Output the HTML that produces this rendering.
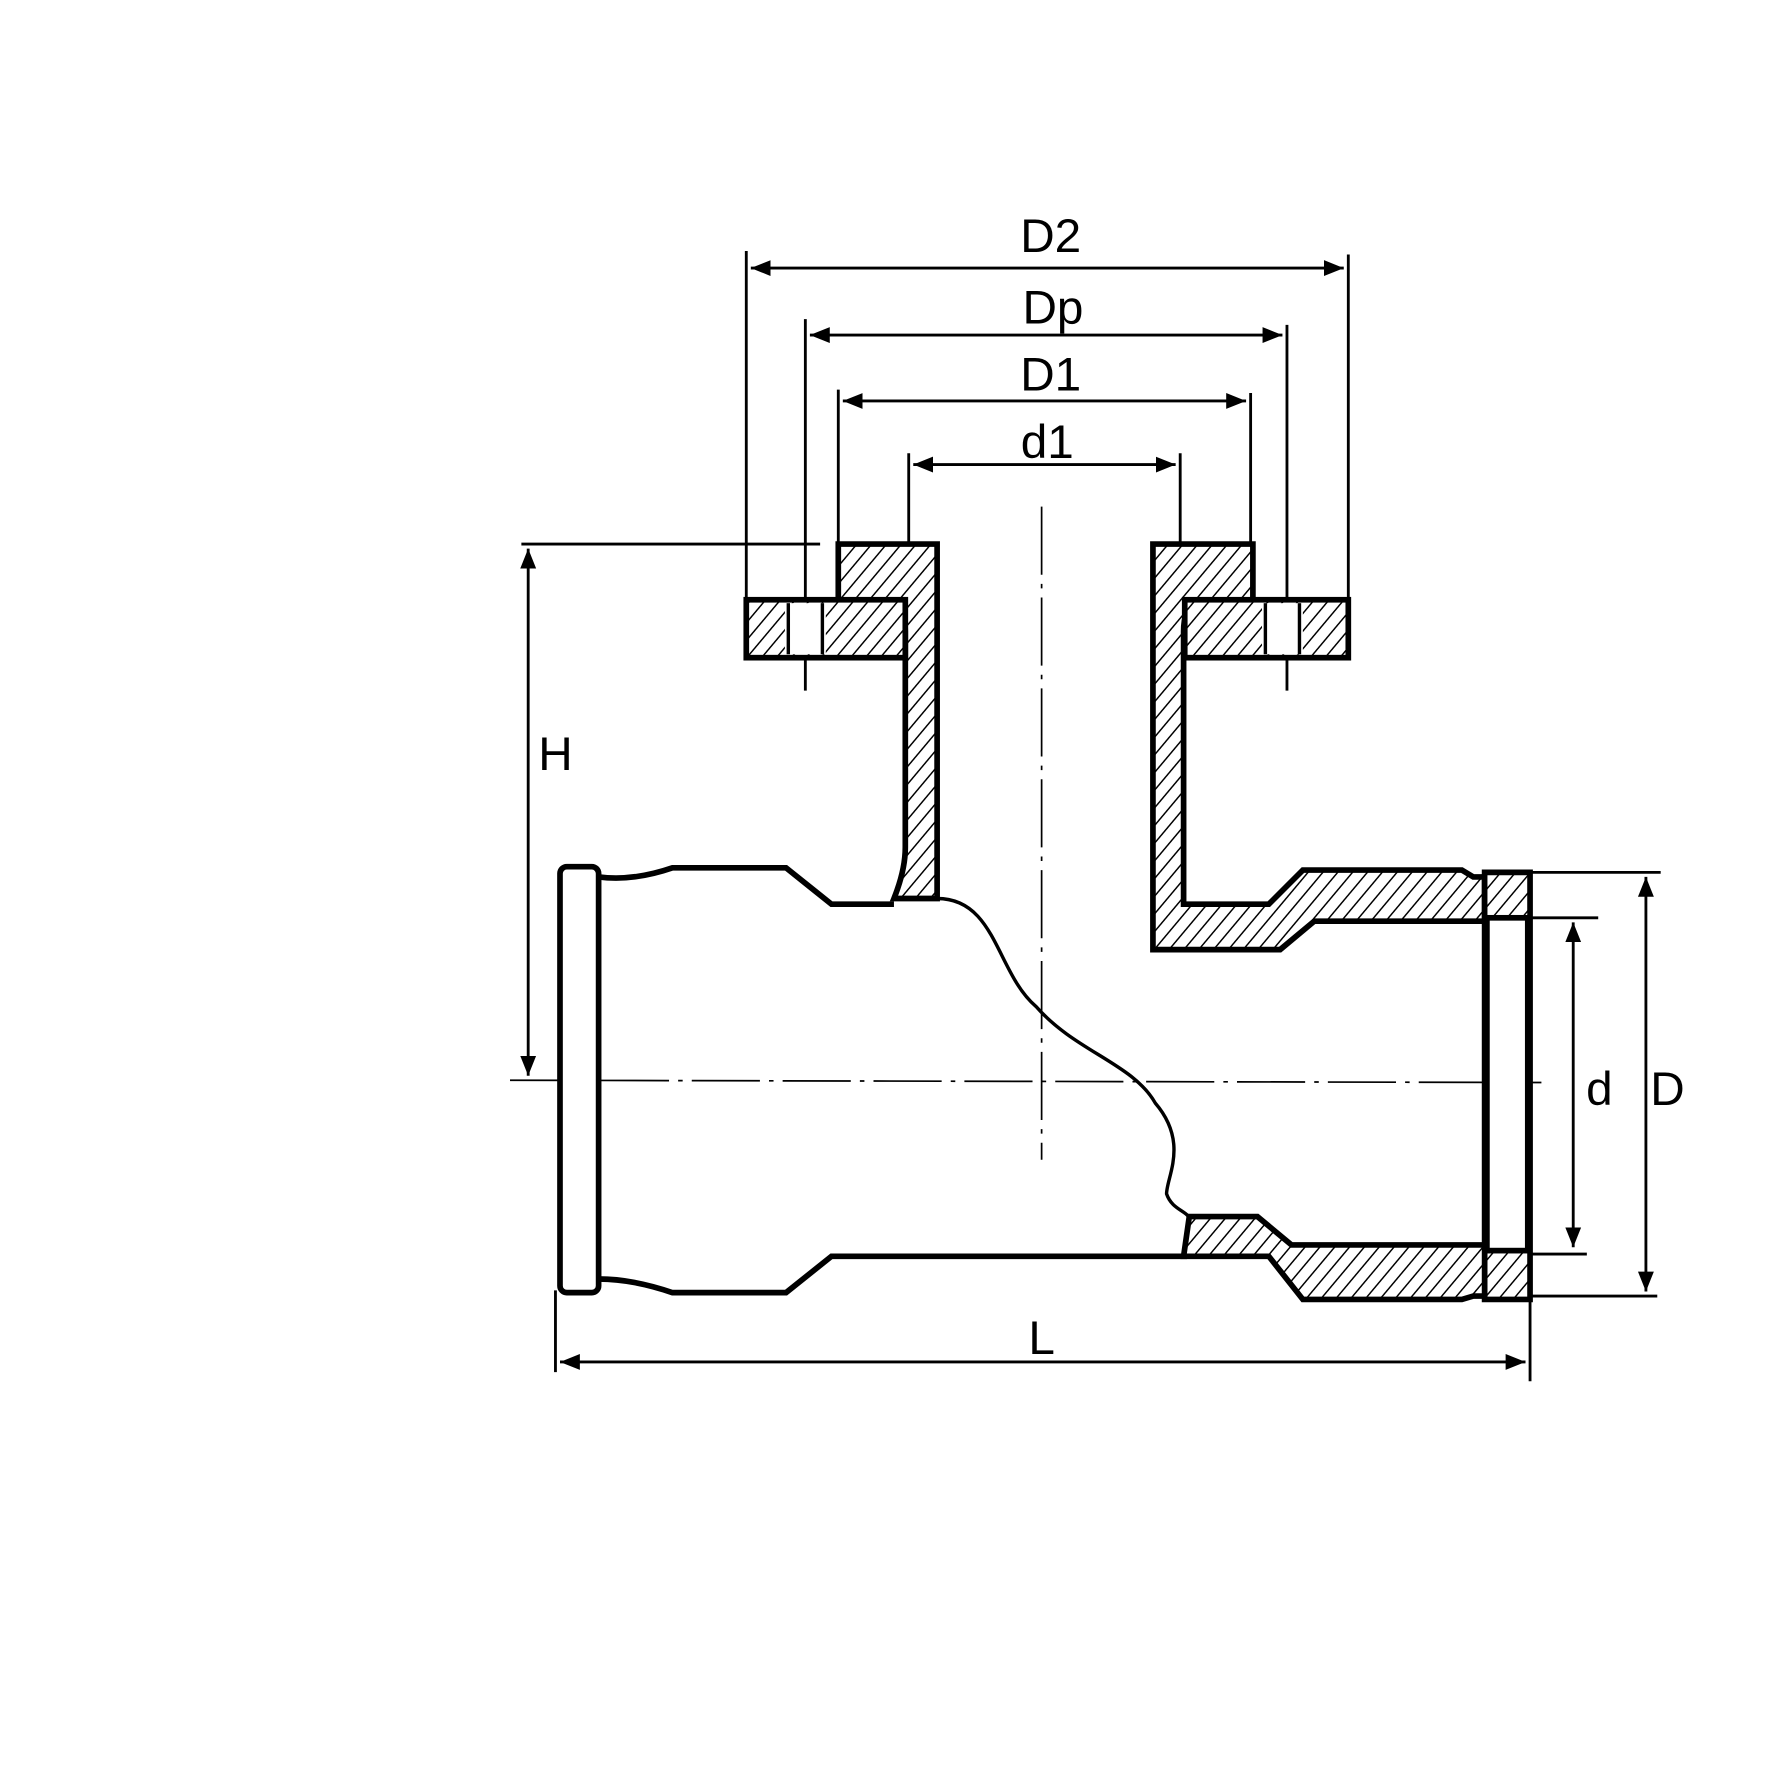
<!DOCTYPE html>
<html><head><style>html,body{margin:0;background:#fff}svg{display:block}</style></head>
<body>
<svg width="1772" height="1772" viewBox="0 0 1560 1560" xmlns="http://www.w3.org/2000/svg" font-family="Liberation Sans, sans-serif">
<defs>
<pattern id="h" width="10" height="10" patternUnits="userSpaceOnUse" patternTransform="rotate(40)">
<rect width="10" height="10" fill="#fff"/><line x1="0" y1="0" x2="0" y2="10" stroke="#000" stroke-width="2.6"/></pattern>
<marker id="a" viewBox="0 0 10 10" refX="10" refY="5" markerWidth="7" markerHeight="7" orient="auto-start-reverse"><path d="M0,1 L10,5 L0,9 z"/></marker>
</defs>
<g transform="translate(-3,-4)">
<g stroke="#000" fill="none" stroke-width="2.5">
<line x1="660" y1="225" x2="660" y2="530"/><line x1="1190" y1="228" x2="1190" y2="530"/>
<line x1="712" y1="285" x2="712" y2="612"/><line x1="1136" y1="290" x2="1136" y2="612"/>
<line x1="741" y1="347" x2="741" y2="485"/><line x1="1104" y1="350" x2="1104" y2="485"/>
<line x1="803" y1="403" x2="803" y2="483"/><line x1="1042" y1="403" x2="1042" y2="483"/>
<line x1="462" y1="483" x2="725" y2="483"/>
<line x1="1340" y1="772" x2="1465" y2="772"/><line x1="1350" y1="1145" x2="1462" y2="1145"/>
<line x1="1350" y1="812" x2="1410" y2="812"/><line x1="1350" y1="1108" x2="1400" y2="1108"/>
<line x1="492" y1="1140" x2="492" y2="1212"/><line x1="1350" y1="1150" x2="1350" y2="1220"/>
<line x1="664" y1="240" x2="1186" y2="240" marker-start="url(#a)" marker-end="url(#a)"/>
<line x1="716" y1="299" x2="1132" y2="299" marker-start="url(#a)" marker-end="url(#a)"/>
<line x1="745" y1="357" x2="1100" y2="357" marker-start="url(#a)" marker-end="url(#a)"/>
<line x1="807" y1="413" x2="1038" y2="413" marker-start="url(#a)" marker-end="url(#a)"/>
<line x1="468" y1="487" x2="468" y2="951" marker-start="url(#a)" marker-end="url(#a)"/>
<line x1="1388" y1="816" x2="1388" y2="1102" marker-start="url(#a)" marker-end="url(#a)"/>
<line x1="1452" y1="776" x2="1452" y2="1141" marker-start="url(#a)" marker-end="url(#a)"/>
<line x1="496" y1="1203" x2="1346" y2="1203" marker-start="url(#a)" marker-end="url(#a)"/>
<line x1="452" y1="955" x2="1360" y2="957" stroke-width="1.5" stroke-dasharray="60,8,4,8"/>
<line x1="920" y1="450" x2="920" y2="1025" stroke-width="1.5" stroke-dasharray="60,8,4,8"/>
</g>
<g stroke="#000" stroke-width="5" fill="url(#h)">
<path d="M741,483 H828 V795 H790 Q800,770 800,750 V560 Q800,540 790,533 H741 Z"/>
<rect x="660" y="532" width="140" height="51"/>
<rect x="694" y="535" width="36" height="45" fill="#fff" stroke="none"/>
<line x1="697" y1="535" x2="697" y2="580" stroke-width="3"/><line x1="727" y1="535" x2="727" y2="580" stroke-width="3"/>
<path d="M1106,483 H1018 V840 H1130 L1160,815 H1310 V776 H1300 L1290,770 H1150 L1120,800 H1045 V560 Q1045,540 1055,533 H1106 Z"/>
<rect x="1046" y="532" width="144" height="51"/>
<rect x="1114" y="535" width="36" height="45" fill="#fff" stroke="none"/>
<line x1="1117" y1="535" x2="1117" y2="580" stroke-width="3"/><line x1="1147" y1="535" x2="1147" y2="580" stroke-width="3"/>
<path d="M1310,772 H1350 V1148 H1310 Z" fill="url(#h)"/>
<rect x="1312" y="812" width="36" height="293" fill="#fff"/>
<path d="M1050,1075 H1110 L1140,1100 H1310 V1145 H1300 L1290,1148 H1150 L1120,1110 H1045 Z"/>
<rect x="496" y="767" width="34" height="375" rx="6" fill="#fff"/>
</g>
<g stroke="#000" stroke-width="5" fill="none">
<path d="M530,776 Q560,780 595,768 H695 L735,800 H790"/>
<path d="M530,1130 Q560,1130 595,1142 H695 L735,1110 H1048"/>
</g>
<path d="M828,795 C880,795 880,860 915,890 C950,930 1000,940 1020,975 C1050,1010 1030,1040 1030,1055 C1035,1070 1050,1070 1050,1078" stroke="#000" stroke-width="3" fill="none"/>
<g font-size="42" fill="#000" text-anchor="middle">
<text x="928" y="226">D2</text><text x="930" y="289">Dp</text>
<text x="928" y="348">D1</text><text x="925" y="407">d1</text>
<text x="492" y="682">H</text><text x="1411" y="977">d</text>
<text x="1471" y="977">D</text><text x="920" y="1196">L</text>
</g>
</g>
</svg>
</body></html>
